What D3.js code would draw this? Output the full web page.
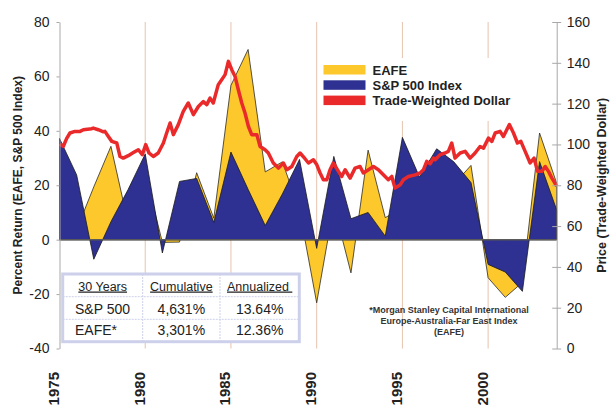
<!DOCTYPE html>
<html>
<head>
<meta charset="utf-8">
<script src="https://cdn.jsdelivr.net/npm/d3@7"></script>
<style>
  body { margin: 0; background: #fff; }
  svg { display: block; font-family: "Liberation Sans", Arial, sans-serif; }
</style>
</head>
<body>
<svg id="chart" width="615" height="420"></svg>
<script>
// annual returns (%), one point per year
var years = [1975, 1976, 1977, 1978, 1979, 1980, 1981, 1982, 1983, 1984,
             1985, 1986, 1987, 1988, 1989, 1990, 1991, 1992, 1993, 1994,
             1995, 1996, 1997, 1998, 1999, 2000, 2001, 2002, 2003, 2004];
var sp500 = [37.2, 23.8, -7.2, 6.6, 18.4, 31.5, -4.9, 21.4, 22.5, 6.3,
             32.2, 18.5, 5.2, 16.8, 29.5, -3.2, 30.6, 7.7, 10.0, 1.3,
             37.6, 23.0, 33.4, 28.6, 21.0, -9.1, -11.9, -19.0, 28.7, 10.9];
var eafe  = [37.1, 3.7, 19.4, 34.3, 6.2, 24.4, -1.0, -0.9, 24.6, 7.9,
             56.7, 69.9, 24.9, 28.6, 10.8, -23.2, 12.5, -12.2, 32.9, 8.1,
             11.6, 6.4, 2.1, 20.3, 27.3, -14.0, -21.2, -15.7, 39.2, 20.7];

// trade-weighted dollar
var dollarDates = [1975.03, 1975.22, 1975.42, 1975.61, 1975.90, 1976.20, 1976.39, 1976.88, 1976.97, 1977.26,
                   1977.56, 1977.65, 1977.85, 1978.05, 1978.34, 1978.53, 1978.72, 1979.01, 1979.31, 1979.60,
                   1979.83, 1980.03, 1980.22, 1980.47, 1980.76, 1981.06, 1981.25, 1981.45, 1981.64, 1981.93,
                   1982.22, 1982.51, 1982.81, 1983.10, 1983.39, 1983.59, 1983.78, 1983.97, 1984.26, 1984.46,
                   1984.66, 1984.85, 1985.05, 1985.24, 1985.43, 1985.63, 1985.82, 1986.02, 1986.21, 1986.51,
                   1986.70, 1986.99, 1987.18, 1987.47, 1987.77, 1988.06, 1988.26, 1988.55, 1988.84, 1989.03,
                   1989.32, 1989.52, 1989.81, 1990.01, 1990.20, 1990.39, 1990.59, 1990.78, 1990.97, 1991.27,
                   1991.46, 1991.66, 1991.95, 1992.24, 1992.53, 1992.72, 1993.02, 1993.31, 1993.60, 1993.89,
                   1994.18, 1994.38, 1994.57, 1994.87, 1995.06, 1995.35, 1995.74, 1996.03, 1996.23, 1996.42,
                   1996.62, 1996.81, 1996.91, 1997.20, 1997.49, 1997.68, 1997.88, 1998.07, 1998.37, 1998.66,
                   1998.95, 1999.24, 1999.53, 1999.73, 2000.02, 2000.22, 2000.41, 2000.70, 2000.89, 2001.24,
                   2001.48, 2001.71, 2001.91, 2002.16, 2002.45, 2002.68, 2002.88, 2003.13, 2003.33, 2003.52,
                   2003.72, 2004.00];
var dollarValues = [100.3, 99.0, 103.0, 105.6, 106.4, 106.4, 107.2, 107.7, 108.0, 107.2,
                    106.2, 106.4, 103.9, 101.5, 100.7, 94.1, 93.3, 94.5, 96.0, 97.4,
                    95.0, 99.9, 95.8, 94.1, 95.8, 100.7, 105.6, 110.5, 104.8, 109.7,
                    116.2, 120.3, 114.6, 118.6, 121.0, 119.5, 122.7, 120.3, 129.3, 131.7,
                    134.2, 140.7, 136.6, 133.3, 126.8, 120.3, 115.4, 108.8, 104.8, 104.8,
                    99.0, 97.4, 95.8, 90.9, 88.4, 90.9, 87.6, 89.2, 94.1, 95.8,
                    93.0, 90.9, 92.5, 90.0, 86.0, 82.7, 82.7, 87.6, 90.9, 86.8,
                    84.3, 87.6, 83.5, 88.4, 89.2, 86.0, 87.6, 89.2, 87.6, 85.1,
                    82.7, 84.3, 78.6, 80.2, 82.7, 84.3, 85.1, 86.0, 87.6, 91.7,
                    90.5, 93.3, 92.5, 95.0, 95.8, 96.6, 100.7, 93.3, 95.8, 96.6,
                    93.3, 95.8, 99.0, 98.2, 103.1, 101.5, 105.6, 106.4, 103.9, 109.7,
                    105.6, 100.7, 101.5, 96.6, 90.9, 93.3, 86.8, 86.8, 89.2, 86.8,
                    83.5, 79.6];

var leftTicks = [-40, -20, 0, 20, 40, 60, 80];
var rightTicks = [0, 20, 40, 60, 80, 100, 120, 140, 160];
var yearTicks = [1975, 1980, 1985, 1990, 1995, 2000];
var gridYears = [1980, 1985, 1990, 1995, 2000];

var legendItems = ["EAFE", "S&P 500 Index", "Trade-Weighted Dollar"];
var tableHeader = ["30 Years", "Cumulative", "Annualized\u00a0"];
var tableRows = [["S&P 500", "4,631%", "13.64%"],
                 ["EAFE*", "3,301%", "12.36%"]];
var footnote = ["*Morgan Stanley Capital International",
                "Europe-Australia-Far East Index",
                "(EAFE)"];

(function() {

	var COLOR = {
		eafe: '#fdc82b',
		sp: '#2e3192',
		dollar: '#ea2a2a',
		grid: '#e6c3ad',
		axis: '#a8a8a8',
		text: '#222',
		tableLine: '#cdd0ea'
	};
	var FONT = '"Liberation Sans", Arial, sans-serif';

	var svg = d3.select('#chart');
	var plotLeft = 59.5, plotRight = 556.7, plotTop = 22, plotBottom = 348.5;

	var x = d3.scaleLinear().domain([1975, 2004]).range([plotLeft, plotRight]);
	var yL = d3.scaleLinear().domain([-40, 80]).range([plotBottom, plotTop]);
	var yR = d3.scaleLinear().domain([0, 160]).range([plotBottom, plotTop]);

	// vertical grid
	svg.append('g').selectAll('line').data(gridYears).enter().append('line')
		.attr('x1', function (d) { return x(d); })
		.attr('x2', function (d) { return x(d); })
		.attr('y1', plotTop).attr('y2', plotBottom)
		.attr('stroke', COLOR.grid).attr('stroke-width', 1);

	// return areas, EAFE under S&P
	function areaFor(values) {
		return d3.area()
			.x(function (d, i) { return x(years[i]); })
			.y0(yL(0))
			.y1(function (d) { return yL(d); })(values);
	}
	svg.append('path').attr('d', areaFor(eafe))
		.attr('fill', COLOR.eafe).attr('stroke', '#2a2a2a').attr('stroke-width', 0.8);
	svg.append('path').attr('d', areaFor(sp500))
		.attr('fill', COLOR.sp).attr('stroke', '#1a1a1a').attr('stroke-width', 0.8);

	// zero line
	svg.append('line')
		.attr('x1', plotLeft).attr('x2', plotRight)
		.attr('y1', yL(0)).attr('y2', yL(0))
		.attr('stroke', '#5a5a5a').attr('stroke-width', 1.5);

	// dollar line
	var line = d3.line()
		.x(function (d, i) { return x(dollarDates[i]); })
		.y(function (d) { return yR(d); });
	svg.append('path').attr('d', line(dollarValues))
		.attr('fill', 'none').attr('stroke', COLOR.dollar)
		.attr('stroke-width', 3.5).attr('stroke-linejoin', 'round');

	// left axis
	var axL = svg.append('g').attr('transform', 'translate(' + plotLeft + ',0)')
		.call(d3.axisLeft(yL).tickValues(leftTicks).tickSizeInner(3).tickSizeOuter(0)
			.tickPadding(7).tickFormat(function (d) { return String(d); }));
	axL.select('.domain').attr('stroke', COLOR.axis);
	axL.selectAll('.tick line').attr('stroke', COLOR.axis);
	axL.selectAll('.tick text').attr('fill', COLOR.text)
		.style('font-size', '14px').style('font-family', FONT);

	// right axis, ticks cross the line
	var axR = svg.append('g').attr('transform', 'translate(' + plotRight + ',0)')
		.call(d3.axisRight(yR).tickValues(rightTicks).tickSizeInner(5).tickSizeOuter(0)
			.tickPadding(5).tickFormat(function (d) { return String(d); }));
	axR.select('.domain').attr('stroke', COLOR.axis);
	axR.selectAll('.tick line').attr('x1', -4.5).attr('x2', 4.5).attr('stroke', COLOR.axis);
	axR.selectAll('.tick text').attr('fill', COLOR.text)
		.style('font-size', '14px').style('font-family', FONT);

	// year labels, rotated
	var axB = svg.append('g').attr('transform', 'translate(0,' + plotBottom + ')')
		.call(d3.axisBottom(x).tickValues(yearTicks).tickSize(0).tickFormat(function (d) { return String(d); }));
	axB.select('.domain').remove();
	axB.selectAll('.tick text')
		.attr('transform', 'rotate(-90)')
		.attr('x', -23.5).attr('y', -1).attr('dy', 0)
		.attr('text-anchor', 'end')
		.attr('fill', COLOR.text)
		.style('font-size', '15px').style('font-weight', 'bold')
		.style('font-family', FONT);

	// axis titles
	svg.append('text')
		.attr('transform', 'translate(22,' + ((plotTop + plotBottom) / 2) + ') rotate(-90)')
		.attr('text-anchor', 'middle')
		.attr('fill', COLOR.text)
		.style('font-size', '12px').style('font-weight', 'bold')
		.text('Percent Return (EAFE, S&P 500 Index)');
	svg.append('text')
		.attr('transform', 'translate(606,' + ((plotTop + plotBottom) / 2) + ') rotate(-90)')
		.attr('text-anchor', 'middle')
		.attr('fill', COLOR.text)
		.style('font-size', '12.5px').style('font-weight', 'bold')
		.text('Price (Trade-Weighted Dollar)');

	// legend
	var legend = svg.append('g');
	legend.append('rect').attr('x', 318).attr('y', 58).attr('width', 195).attr('height', 63).attr('fill', '#fff');
	var legendColors = [COLOR.eafe, COLOR.sp, COLOR.dollar];
	legend.selectAll('rect.sw').data(legendItems).enter().append('rect')
		.attr('class', 'sw')
		.attr('x', 323.5).attr('y', function (d, i) { return 65 + i * 15.3; })
		.attr('width', 42).attr('height', 9.5)
		.attr('fill', function (d, i) { return legendColors[i]; });
	legend.selectAll('text').data(legendItems).enter().append('text')
		.attr('x', 372.5).attr('y', function (d, i) { return 74.5 + i * 15.3; })
		.attr('fill', COLOR.text)
		.style('font-size', '13px').style('font-weight', 'bold')
		.text(function (d) { return d; });

	// summary table
	var tbl = svg.append('g');
	var tx = 62.7, ty = 274, tw = 236.6, th = 67.7;
	var colX = [tx, 142.7, 220, tx + tw];
	var rowY = [ty, 296.7, 319.3, ty + th];
	tbl.append('rect').attr('x', tx).attr('y', ty).attr('width', tw).attr('height', th)
		.attr('fill', '#fff').attr('stroke', COLOR.tableLine).attr('stroke-width', 3);
	tbl.selectAll('line.row').data([rowY[1], rowY[2]]).enter().append('line')
		.attr('class', 'row')
		.attr('x1', tx).attr('x2', tx + tw)
		.attr('y1', function (d) { return d; }).attr('y2', function (d) { return d; })
		.attr('stroke', COLOR.tableLine).attr('stroke-width', 1).attr('stroke-dasharray', '2,1');
	tbl.selectAll('line.col').data([colX[1], colX[2]]).enter().append('line')
		.attr('class', 'col')
		.attr('x1', function (d) { return d; }).attr('x2', function (d) { return d; })
		.attr('y1', ty).attr('y2', ty + th)
		.attr('stroke', COLOR.tableLine).attr('stroke-width', 1).attr('stroke-dasharray', '2,1');
	tbl.selectAll('text.head').data(tableHeader).enter().append('text')
		.attr('class', 'head')
		.attr('x', function (d, i) { return (colX[i] + colX[i + 1]) / 2; })
		.attr('y', 290.5)
		.attr('text-anchor', 'middle')
		.attr('fill', COLOR.text)
		.style('font-size', '12.5px').style('text-decoration', 'underline')
		.text(function (d) { return d; });
	tableRows.forEach(function (row, r) {
		tbl.selectAll('text.r' + r).data(row).enter().append('text')
			.attr('class', 'r' + r)
			.attr('x', function (d, i) { return i === 0 ? 75 : (colX[i] + colX[i + 1]) / 2; })
			.attr('y', 314 + r * 21)
			.attr('text-anchor', function (d, i) { return i === 0 ? 'start' : 'middle'; })
			.attr('fill', COLOR.text)
			.style('font-size', '14px')
			.text(function (d) { return d; });
	});

	// footnote
	svg.append('g').selectAll('text').data(footnote).enter().append('text')
		.attr('x', 449).attr('y', function (d, i) { return 312.5 + i * 11.2; })
		.attr('text-anchor', 'middle')
		.attr('fill', '#333')
		.style('font-size', '9px').style('font-weight', 'bold')
		.text(function (d) { return d; });

})();
</script>
</body>
</html>
